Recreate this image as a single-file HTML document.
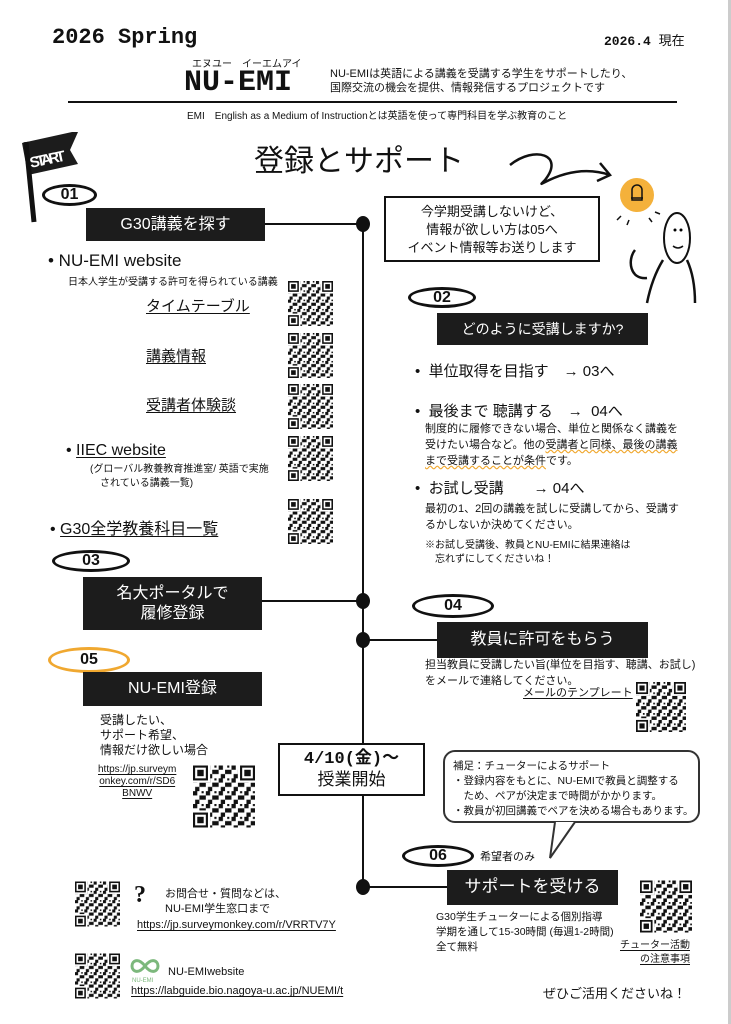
<!DOCTYPE html>
<html><head><meta charset="utf-8"><style>
*{margin:0;padding:0;box-sizing:border-box}
body{width:731px;height:1024px;background:#fff;position:relative;overflow:hidden;font-family:"Liberation Sans","Noto Sans CJK JP",sans-serif;color:#111}
.a{position:absolute;white-space:nowrap}
.mono{font-family:"Liberation Mono","Noto Sans CJK JP",monospace;font-weight:bold}
.box{position:absolute;background:#1c1c1c;color:#fff;display:flex;align-items:center;justify-content:center;text-align:center;line-height:1.2}
.dot{position:absolute;width:14px;height:16px;border-radius:50%;background:#111}
.hl{position:absolute;height:2px;background:#111}
.qr{position:absolute}
.ell{position:absolute;border:3px solid #111;border-radius:50%;font-weight:bold;font-size:16px;display:flex;align-items:center;justify-content:center}
u{text-underline-offset:2px}
</style></head><body>
<svg width="0" height="0" style="position:absolute"><defs>
<pattern id="pt" width="6" height="6" patternUnits="userSpaceOnUse"><rect width="2" height="2" fill="#111"/><rect x="3" y="2" width="3" height="2" fill="#111"/><rect x="1" y="4" width="2" height="2" fill="#111"/><rect x="4" y="0" width="1" height="1" fill="#111"/></pattern>
<symbol id="qr" viewBox="0 0 29 29"><rect width="29" height="29" fill="url(#pt)"/>
<g fill="#111"><rect width="8" height="8" fill="#fff"/><rect x="0" y="0" width="7" height="7"/><rect x="1" y="1" width="5" height="5" fill="#fff"/><rect x="2" y="2" width="3" height="3"/>
<rect x="21" width="8" height="8" fill="#fff"/><rect x="22" y="0" width="7" height="7"/><rect x="23" y="1" width="5" height="5" fill="#fff"/><rect x="24" y="2" width="3" height="3"/>
<rect y="21" width="8" height="8" fill="#fff"/><rect x="0" y="22" width="7" height="7"/><rect x="1" y="23" width="5" height="5" fill="#fff"/><rect x="2" y="24" width="3" height="3"/></g></symbol>
</defs></svg>
<div style="position:absolute;right:0;top:0;width:3px;height:1024px;background:#ccc"></div>

<div class="a mono" style="left:52px;top:25px;font-size:22px">2026 Spring</div>
<div class="a mono" style="left:604px;top:30px;font-size:13px">2026.4 <span style="font-weight:normal">現在</span></div>
<div class="a" style="left:192px;top:55px;font-size:10px">エヌユー　イーエムアイ</div>
<div class="a mono" style="left:184px;top:66px;font-size:30px">NU-EMI</div>
<div class="a" style="left:330px;top:67px;font-size:11px;line-height:14px">NU-EMIは英語による講義を受講する学生をサポートしたり、<br>国際交流の機会を提供、情報発信するプロジェクトです</div>
<div class="hl" style="left:68px;top:101px;width:609px"></div>
<div class="a" style="left:187px;top:107px;font-size:10px">EMI　English as a Medium of Instructionとは英語を使って専門科目を学ぶ教育のこと</div>

<svg class="a" style="left:18px;top:128px" width="90" height="100"><polygon points="4,15 54,4 60,4 52,22 60,36 10,47" fill="#1c1c1c"/><line x1="8" y1="14" x2="16" y2="94" stroke="#111" stroke-width="5"/><text x="12" y="40" fill="#fff" font-size="15" font-weight="bold" font-family="Liberation Sans" transform="rotate(-12 12 36)" textLength="36">START</text></svg>
<div class="a" style="left:254px;top:136px;font-size:30px">登録とサポート</div>
<svg class="a" style="left:505px;top:145px" width="110" height="50"><path d="M5,20 C30,0 60,10 40,35 C25,50 60,15 105,30 M95,18 L105,30 L92,36" fill="none" stroke="#111" stroke-width="2.5"/></svg>
<svg class="a" style="left:605px;top:168px" width="100" height="140"><circle cx="32" cy="27" r="17" fill="#f4b13b"/><path d="M26,30 h12 M27,22 a5,5 0 1 1 10,0 v10 h-10z" stroke="#111" fill="none" stroke-width="1.5"/><path d="M16,48 l-4,4 M24,52 l-2,5 M44,50 l3,4 M50,44 l5,2" stroke="#111" stroke-width="1.5"/><ellipse cx="72" cy="70" rx="13" ry="25" fill="none" stroke="#111" stroke-width="2"/><circle cx="70" cy="62" r="1.5"/><circle cx="76" cy="62" r="1.5"/><path d="M68,78 q5,4 10,0" fill="none" stroke="#111" stroke-width="1.5"/><path d="M58,92 C50,105 45,120 42,135 M82,92 C88,105 90,120 90,135 M30,82 c-8,10 -5,30 12,28" stroke="#111" fill="none" stroke-width="2.5"/></svg>

<div style="position:absolute;left:362px;top:222px;width:2px;height:666px;background:#111"></div>

<div class="ell" style="left:42px;top:184px;width:55px;height:22px">01</div>
<div class="box" style="left:86px;top:208px;width:179px;height:33px;font-size:16px">G30講義を探す</div>
<div class="hl" style="left:265px;top:223px;width:98px"></div><div class="dot" style="left:356px;top:216px"></div>
<div class="a" style="left:384px;top:196px;width:216px;height:66px;border:2px solid #111;font-size:13px;line-height:18px;text-align:center;padding-top:5px">今学期受講しないけど、<br>情報が欲しい方は05へ<br>イベント情報等お送りします</div>

<div class="a" style="left:48px;top:251px;font-size:17px">• NU-EMI website</div>
<div class="a" style="left:68px;top:273px;font-size:10px">日本人学生が受講する許可を得られている講義</div>
<div class="a" style="left:146px;top:295px;font-size:15px"><u>タイムテーブル</u></div>
<div class="a" style="left:146px;top:345px;font-size:15px"><u>講義情報</u></div>
<div class="a" style="left:146px;top:394px;font-size:15px"><u>受講者体験談</u></div>
<div class="a" style="left:66px;top:442px;font-size:16px">• <u>IIEC website</u></div>
<div class="a" style="left:90px;top:463px;font-size:10px;line-height:14px">(グローバル教養教育推進室/ 英語で実施<br>　されている講義一覧)</div>
<div class="a" style="left:50px;top:515px;font-size:16px">• <u>G30全学教養科目一覧</u></div>
<svg class="qr" style="left:288px;top:281px" width="45" height="45"><use href="#qr"/></svg>
<svg class="qr" style="left:288px;top:333px" width="45" height="45"><use href="#qr"/></svg>
<svg class="qr" style="left:288px;top:384px" width="45" height="45"><use href="#qr"/></svg>
<svg class="qr" style="left:288px;top:436px" width="45" height="45"><use href="#qr"/></svg>
<svg class="qr" style="left:288px;top:499px" width="45" height="45"><use href="#qr"/></svg>

<div class="ell" style="left:408px;top:287px;width:68px;height:21px">02</div>
<div class="box" style="left:437px;top:313px;width:211px;height:32px;font-size:14px">どのように受講しますか?</div>
<div class="a" style="left:415px;top:360px;font-size:15px">•&nbsp; 単位取得を目指す　→ 03へ</div>
<div class="a" style="left:415px;top:400px;font-size:15px">•&nbsp; 最後まで 聴講する　→&nbsp; 04へ</div>
<div class="a" style="left:425px;top:421px;font-size:11px;line-height:16px">制度的に履修できない場合、単位と関係なく講義を<br>受けたい場合など。他の<span style="text-decoration:underline wavy #f0a830">受講者と同様、最後の講義</span><br><span style="text-decoration:underline wavy #f0a830">まで受講することが条件</span>です。</div>
<div class="a" style="left:415px;top:477px;font-size:15px">•&nbsp; お試し受講　　→ 04へ</div>
<div class="a" style="left:425px;top:501px;font-size:11px;line-height:16px">最初の1、2回の講義を試しに受講してから、受講す<br>るかしないか決めてください。</div>
<div class="a" style="left:425px;top:539px;font-size:10px;line-height:14px">※お試し受講後、教員とNU-EMIに結果連絡は<br>　忘れずにしてくださいね！</div>

<div class="ell" style="left:52px;top:550px;width:78px;height:22px">03</div>
<div class="box" style="left:83px;top:577px;width:179px;height:53px;font-size:16px">名大ポータルで<br>履修登録</div>
<div class="hl" style="left:262px;top:600px;width:100px"></div><div class="dot" style="left:356px;top:593px"></div>
<div class="ell" style="left:412px;top:594px;width:82px;height:24px">04</div>
<div class="box" style="left:437px;top:622px;width:211px;height:36px;font-size:16px">教員に許可をもらう</div>
<div class="hl" style="left:363px;top:639px;width:74px"></div><div class="dot" style="left:356px;top:632px"></div>
<div class="a" style="left:425px;top:657px;font-size:11px;line-height:16px">担当教員に受講したい旨(単位を目指す、聴講、お試し)<br>をメールで連絡してください。</div>
<div class="a" style="left:523px;top:684px;font-size:11px"><u>メールのテンプレート</u></div>
<svg class="qr" style="left:636px;top:682px" width="50" height="50"><use href="#qr"/></svg>

<div class="ell" style="left:48px;top:647px;width:82px;height:26px;border-color:#f0a830">05</div>
<div class="box" style="left:83px;top:672px;width:179px;height:34px;font-size:16px">NU-EMI登録</div>
<div class="a" style="left:100px;top:713px;font-size:12px;line-height:15px">受講したい、<br>サポート希望、<br>情報だけ欲しい場合</div>
<div class="a" style="left:98px;top:764px;font-size:10px;line-height:12px;text-align:center"><u>https://jp.surveym</u><br><u>onkey.com/r/SD6</u><br><u>BNWV</u></div>
<svg class="qr" style="left:193px;top:765px" width="62" height="63"><use href="#qr"/></svg>
<div class="a mono" style="left:278px;top:743px;width:147px;height:53px;border:2px solid #111;background:#fff;text-align:center;font-size:17px;line-height:22px;padding-top:4px">4/10(金)～<br><span style="font-weight:normal">授業開始</span></div>

<div class="a" style="left:443px;top:750px;width:257px;height:73px;border:2.5px solid #333;border-radius:12px;font-size:10.5px;line-height:15px;padding:7px 0 0 8px">補足：チューターによるサポート<br>・登録内容をもとに、NU-EMIで教員と調整する<br>　ため、ペアが決定まで時間がかかります。<br>・教員が初回講義でペアを決める場合もあります。</div>
<svg class="a" style="left:545px;top:820px" width="40" height="40"><path d="M10,2 L5,38 L30,2" fill="#fff" stroke="#333" stroke-width="2"/></svg>

<div class="ell" style="left:402px;top:845px;width:72px;height:22px">06</div>
<div class="a" style="left:480px;top:848px;font-size:11px">希望者のみ</div>
<div class="box" style="left:447px;top:870px;width:171px;height:35px;font-size:17px">サポートを受ける</div>
<div class="hl" style="left:363px;top:886px;width:84px"></div><div class="dot" style="left:356px;top:879px"></div>
<div class="a" style="left:436px;top:910px;font-size:10.5px;line-height:15px">G30学生チューターによる個別指導<br>学期を通して15-30時間 (毎週1-2時間)<br>全て無料</div>
<svg class="qr" style="left:640px;top:880px" width="52" height="53"><use href="#qr"/></svg>
<div class="a" style="left:620px;top:939px;font-size:10px;line-height:14px;text-align:right"><u>チューター活動</u><br><u>の注意事項</u></div>

<svg class="qr" style="left:75px;top:881px" width="45" height="46"><use href="#qr"/></svg>
<div class="a" style="left:134px;top:882px;font-size:24px;font-weight:bold;font-family:'Liberation Serif',serif">?</div>
<div class="a" style="left:165px;top:887px;font-size:11px;line-height:15px">お問合せ・質問などは、<br>NU-EMI学生窓口まで</div>
<div class="a" style="left:137px;top:919px;font-size:11px"><u>https://jp.surveymonkey.com/r/VRRTV7Y</u></div>
<svg class="qr" style="left:75px;top:953px" width="45" height="46"><use href="#qr"/></svg>
<svg class="a" style="left:130px;top:957px" width="30" height="26"><path d="M15,9 C8,0 2,4 2,9 C2,14 8,18 15,9 C22,0 28,4 28,9 C28,14 22,18 15,9" fill="none" stroke="#7cb87c" stroke-width="3"/><text x="2" y="25" font-size="6" fill="#7cb87c" font-family="Liberation Sans">NU-EMI</text></svg>
<div class="a" style="left:168px;top:966px;font-size:11px">NU-EMIwebsite</div>
<div class="a" style="left:131px;top:985px;font-size:11px"><u>https://labguide.bio.nagoya-u.ac.jp/NUEMI/t</u></div>
<div class="a" style="left:543px;top:983px;font-size:13px">ぜひご活用くださいね！</div>
</body></html>
